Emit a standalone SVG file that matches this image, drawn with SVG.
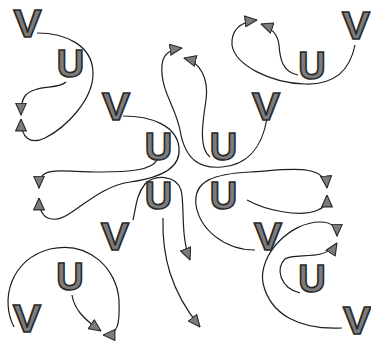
<svg xmlns="http://www.w3.org/2000/svg" width="371" height="341" viewBox="0 0 371 341">
<style>
.lt{font-family:"Liberation Sans",Arial,sans-serif;font-weight:bold;font-size:38px;text-anchor:middle;fill:#7c7c7c;stroke:#2a2a2a;stroke-width:1.6;}
.c{fill:none;stroke:#1e1e1e;stroke-width:1.2;marker-end:url(#ah);}
</style>
<defs>
<marker id="ah" viewBox="0 0 13 12" refX="12.5" refY="6" markerWidth="13" markerHeight="12" markerUnits="userSpaceOnUse" orient="auto">
<path d="M0.6,0.6 L12.5,6 L0.6,11.4 z" fill="#7c7c7c" stroke="#2a2a2a" stroke-width="1.1"/>
</marker>
</defs>
<rect width="371" height="341" fill="#fff"/>
<g id="connectors">
<path class="c" d="M37,33 C65,33 92,45 93,72 C94,100 65,128 45,138 C30,145 21,138 21,119"/>
<path class="c" d="M66,82 C58,90 35,84 25,96 C21,101 21,108 21,115"/>
<path class="c" d="M355,45 C350,70 335,85 305,84 C270,83 235,65 232,45 C231,30 240,22 257,20"/>
<path class="c" d="M298,75 C283,72 280,60 279,45 C278,35 272,28 261,24"/>
<path class="c" d="M267,118 C262,150 245,165 222,167 C200,169 185,160 180,130 C175,105 160,90 162,65 C163,55 168,50 182,48"/>
<path class="c" d="M210,157 C198,148 203,120 206,100 C209,78 200,62 184,58"/>
<path class="c" d="M157,160 C152,170 130,172 100,172 C70,172 50,168 43,175 C39,179 39,183 39,188"/>
<path class="c" d="M123,116 C150,116 177,125 179,148 C181,168 160,178 130,182 C105,186 90,200 72,212 C55,224 39,222 39,198"/>
<path class="c" d="M133,220 C136,208 136,195 145,184 C155,174 176,175 181,190 C185,205 180,235 190,260"/>
<path class="c" d="M163,218 C162,255 170,290 200,327"/>
<path class="c" d="M255,250 C225,250 200,230 196,205 C193,180 215,174 250,172 C285,170 325,162 327,188"/>
<path class="c" d="M247,200 C265,210 300,218 318,210 C325,207 327,203 327,195"/>
<path class="c" d="M72,295 C74,308 82,318 101,331"/>
<path class="c" d="M14,327 C0,300 10,260 50,249 C90,240 117,270 119,300 C120,325 118,335 103,335"/>
<path class="c" d="M342,328 C300,330 270,315 263,283 C258,255 290,222 320,222 C332,222 337,228 337,236"/>
<path class="c" d="M300,293 C280,288 275,268 285,259 C295,252 325,262 337,243"/>
</g>
<g id="v1"><text class="lt" x="27.5" y="37" textLength="28" lengthAdjust="spacingAndGlyphs">V</text></g>
<g id="v2"><text class="lt" x="356" y="39" textLength="28" lengthAdjust="spacingAndGlyphs">V</text></g>
<g id="v3"><text class="lt" x="116" y="120" textLength="28" lengthAdjust="spacingAndGlyphs">V</text></g>
<g id="v4"><text class="lt" x="266" y="120" textLength="28" lengthAdjust="spacingAndGlyphs">V</text></g>
<g id="v5"><text class="lt" x="115" y="250" textLength="28" lengthAdjust="spacingAndGlyphs">V</text></g>
<g id="v6"><text class="lt" x="27" y="332" textLength="28" lengthAdjust="spacingAndGlyphs">V</text></g>
<g id="v7"><text class="lt" x="268" y="250" textLength="28" lengthAdjust="spacingAndGlyphs">V</text></g>
<g id="v8"><text class="lt" x="357" y="334" textLength="28" lengthAdjust="spacingAndGlyphs">V</text></g>
<g id="u1"><text class="lt" x="70.5" y="77">U</text></g>
<g id="u2"><text class="lt" x="312" y="79">U</text></g>
<g id="u3"><text class="lt" x="158.5" y="160">U</text></g>
<g id="u4"><text class="lt" x="223.5" y="160">U</text></g>
<g id="u5"><text class="lt" x="158.5" y="209">U</text></g>
<g id="u6"><text class="lt" x="223.5" y="209">U</text></g>
<g id="u7"><text class="lt" x="70" y="290">U</text></g>
<g id="u8"><text class="lt" x="312" y="292">U</text></g>
</svg>
